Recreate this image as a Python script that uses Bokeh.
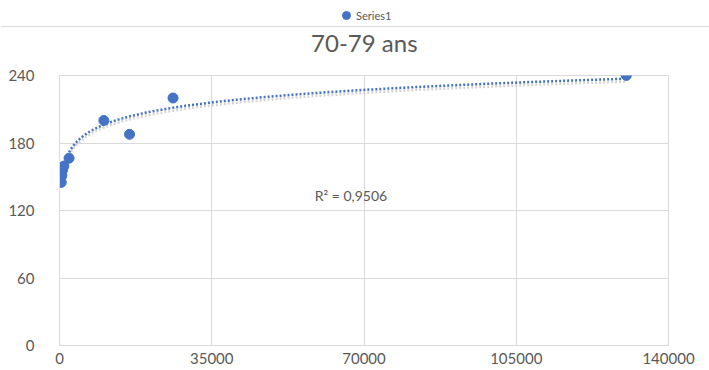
import numpy as np
from bokeh.plotting import figure
from bokeh.layouts import column
from bokeh.models import (FixedTicker, BasicTickFormatter, Label, Legend, LegendItem, Range1d, Span)
from bokeh.embed import file_html
from bokeh.resources import INLINE

# Data
x_vals = [400, 550, 700, 1000, 2200, 10200, 16100, 26100, 130300]
y_vals = [145, 151, 156, 159.5, 166.5, 200, 187.7, 220, 240]
x_ticks = [0, 35000, 70000, 105000, 140000]
y_ticks = [0, 60, 120, 180, 240]
series_name = "Series1"
title_text = "70-79 ans"
r2_text = "R² = 0,9506"

# Logarithmic trendline (least squares on ln x), as Excel does
lx = np.log(np.array(x_vals, dtype=float))
a, b = np.polyfit(lx, np.array(y_vals, dtype=float), 1)
tx = np.geomspace(min(x_vals), max(x_vals), 200)
ty = a * np.log(tx) + b

GREY_TXT = "#595959"
GRID = "#d9d9d9"
BLUE = "#4472C4"
FONT = "Lato"

# ---- header strip: legend, border line, title ----
TOP_H = 65
top = figure(width=709, height=TOP_H, output_backend="svg", toolbar_location=None,
             x_range=Range1d(0, 709), y_range=Range1d(0, TOP_H), min_border=0)
top.frame_align = False
top.axis.visible = False
top.grid.visible = False
top.outline_line_color = None
top.background_fill_color = "white"
top.border_fill_color = "white"
# same series drawn here only to feed the legend (its points fall outside this strip's ranges)
leg_r = top.scatter(x_vals, y_vals, size=10, fill_color=BLUE, line_color=BLUE)
legend = Legend(items=[LegendItem(label=series_name, renderers=[leg_r])],
                location=(336, TOP_H - 25), orientation="horizontal",
                border_line_color=None, background_fill_alpha=0,
                padding=0, margin=0, spacing=0, label_standoff=0,
                glyph_width=20, glyph_height=20,
                label_text_font=FONT, label_text_font_size="11px",
                label_text_color=GREY_TXT)
top.add_layout(legend, "center")
top.add_layout(Span(location=TOP_H - 26, dimension="width", line_color=GRID, line_width=1.2))
top.add_layout(Label(x=363.8, y=TOP_H - 42, text=title_text, text_align="center",
                     text_baseline="middle", text_font=FONT, text_font_size="24px",
                     text_color=GREY_TXT))

# ---- main chart ----
p = figure(frame_width=609, frame_height=270, output_backend="svg", toolbar_location=None,
           x_range=Range1d(0, 140000), y_range=Range1d(0, 240),
           min_border_left=59, min_border_right=41, min_border_top=10, min_border_bottom=25)

p.background_fill_color = "white"
p.border_fill_color = "white"
p.outline_line_color = GRID

for ax in (p.xaxis[0], p.yaxis[0]):
    ax.major_tick_line_color = None
    ax.minor_tick_line_color = None
    ax.axis_line_color = GRID
    ax.major_label_text_color = GREY_TXT
    ax.major_label_text_font = FONT
    ax.major_label_text_font_size = "15px"
    ax.major_tick_out = 0
    ax.major_tick_in = 0

p.xaxis.ticker = FixedTicker(ticks=x_ticks)
p.yaxis.ticker = FixedTicker(ticks=y_ticks)
p.xaxis.formatter = BasicTickFormatter(use_scientific=False)
p.yaxis.formatter = BasicTickFormatter(use_scientific=False)
p.xaxis.major_label_standoff = 7
p.yaxis.major_label_standoff = 25

p.xgrid.ticker = FixedTicker(ticks=x_ticks)
p.ygrid.ticker = FixedTicker(ticks=y_ticks)
p.xgrid.grid_line_color = GRID
p.ygrid.grid_line_color = GRID

# trendline shadow + dotted trendline
p.line(tx, ty - 2.6, line_color="#c9c9c9", line_width=2.5, line_dash="2 2", line_alpha=0.8)
p.line(tx, ty, line_color=BLUE, line_width=2.5, line_dash="2 2")

p.scatter(x_vals, y_vals, size=10, fill_color=BLUE, line_color=BLUE)

# R² label
p.add_layout(Label(x=67000, y=133.5, text=r2_text, text_align="center", text_baseline="middle",
                   text_font=FONT, text_font_size="14px", text_color=GREY_TXT))

layout = column(top, p, spacing=0)
open("out.html", "w").write(file_html(layout, INLINE))
